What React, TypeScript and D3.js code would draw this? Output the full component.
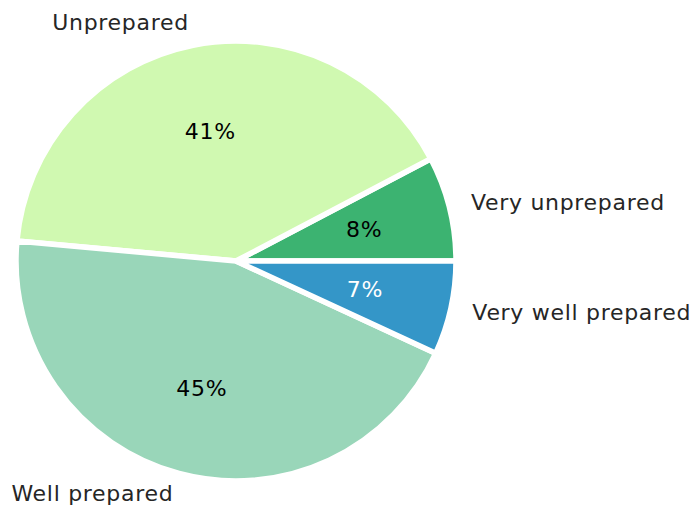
import { useEffect, useRef } from 'react';
import * as d3 from 'd3';

const categories = ['Very unprepared', 'Unprepared', 'Well prepared', 'Very well prepared'];
const shares = [7.7, 40.9, 44.6, 6.9];
const sliceColors = ['#3cb371', '#d0f9b1', '#99d6b9', '#3496c8'];
const pctColors = ['#000000', '#000000', '#000000', '#ffffff'];

export default function App() {
  const svgRef = useRef<SVGSVGElement>(null);

  useEffect(() => {
    document.body.style.margin = '0';
    if (!svgRef.current) return;

    const width = 694;
    const height = 507;
    const cx = 236;
    const cy = 261;
    const radius = 220;

    const svg = d3.select(svgRef.current);
    svg.selectAll('*').remove();
    svg.attr('width', width).attr('height', height);

    const g = svg.append('g').attr('transform', `translate(${cx}, ${cy})`);

    const data = categories.map((c, i) => ({ name: c, value: shares[i], i }));
    const total = d3.sum(shares);

    // matplotlib style: start at 3 o'clock, go counter-clockwise
    const pie = d3.pie<typeof data[number]>()
      .value(d => d.value)
      .sort(null)
      .startAngle(Math.PI / 2)
      .endAngle(Math.PI / 2 - 2 * Math.PI);

    const arcs = pie(data);
    const arc = d3.arc<d3.PieArcDatum<typeof data[number]>>()
      .innerRadius(0)
      .outerRadius(radius);

    g.selectAll('.slice')
      .data(arcs)
      .enter()
      .append('path')
      .attr('class', 'slice')
      .attr('d', arc)
      .attr('fill', d => sliceColors[d.data.i])
      .attr('stroke', '#ffffff')
      .attr('stroke-width', 5.5)
      .attr('stroke-linejoin', 'miter');

    const pos = (d: d3.PieArcDatum<typeof data[number]>, r: number) => {
      const mid = (d.startAngle + d.endAngle) / 2;
      return [r * Math.sin(mid), -r * Math.cos(mid)];
    };

    // Category labels
    g.selectAll('.label')
      .data(arcs)
      .enter()
      .append('text')
      .attr('class', 'label')
      .attr('x', d => pos(d, radius * 1.1)[0])
      .attr('y', d => pos(d, radius * 1.1)[1])
      .attr('text-anchor', d => (pos(d, 1)[0] >= 0 ? 'start' : 'end'))
      .attr('dy', '0.3em')
      .attr('font-family', 'DejaVu Sans')
      .attr('font-size', '22px')
      .attr('letter-spacing', '0.7px')
      .attr('fill', '#262626')
      .text(d => d.data.name);

    // Percentages
    g.selectAll('.pct')
      .data(arcs)
      .enter()
      .append('text')
      .attr('class', 'pct')
      .attr('x', d => pos(d, radius * 0.6)[0])
      .attr('y', d => pos(d, radius * 0.6)[1])
      .attr('text-anchor', 'middle')
      .attr('dy', '0.36em')
      .attr('font-family', 'DejaVu Sans')
      .attr('font-size', '22px')
      .attr('letter-spacing', '0.8px')
      .attr('fill', d => pctColors[d.data.i])
      .text(d => `${Math.round((d.data.value / total) * 100)}%`);
  }, []);

  return <svg ref={svgRef}></svg>;
}
